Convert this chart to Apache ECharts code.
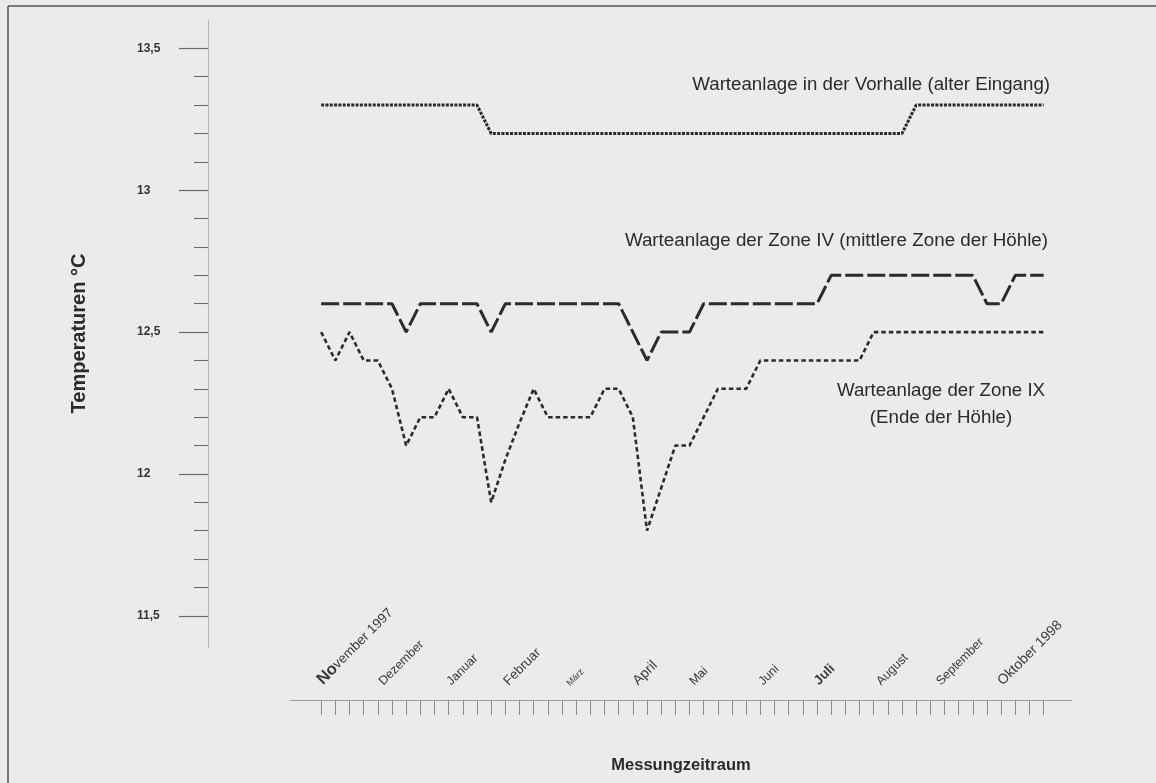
<!DOCTYPE html>
<html>
<head>
<meta charset="utf-8">
<script src="https://cdn.jsdelivr.net/npm/echarts@6/dist/echarts.min.js"></script>
<style>
  html, body { margin: 0; padding: 0; background: #ebebeb; }
  #chart { width: 1156px; height: 783px; }
</style>
</head>
<body>
<div id="chart"></div>
<script>
// ---- Data (weekly measurements, Nov 1997 – Oct 1998) ----
const weeks = [0,1,2,3,4,5,6,7,8,9,10,11,12,13,14,15,16,17,18,19,20,21,22,23,24,25,
               26,27,28,29,30,31,32,33,34,35,36,37,38,39,40,41,42,43,44,45,46,47,48,49,50,51];

const vorhalle = [13.3,13.3,13.3,13.3,13.3,13.3,13.3,13.3,13.3,13.3,13.3,13.3,
                  13.2,13.2,13.2,13.2,13.2,13.2,13.2,13.2,13.2,13.2,13.2,13.2,13.2,13.2,13.2,13.2,13.2,13.2,
                  13.2,13.2,13.2,13.2,13.2,13.2,13.2,13.2,13.2,13.2,13.2,13.2,
                  13.3,13.3,13.3,13.3,13.3,13.3,13.3,13.3,13.3,13.3];

const zoneIV = [12.6,12.6,12.6,12.6,12.6,12.6,12.5,12.6,12.6,12.6,12.6,12.6,12.5,
                12.6,12.6,12.6,12.6,12.6,12.6,12.6,12.6,12.6,12.5,12.4,12.5,12.5,12.5,
                12.6,12.6,12.6,12.6,12.6,12.6,12.6,12.6,12.6,
                12.7,12.7,12.7,12.7,12.7,12.7,12.7,12.7,12.7,12.7,12.7,
                12.6,12.6,12.7,12.7,12.7];

const zoneIX = [12.5,12.4,12.5,12.4,12.4,12.3,12.1,12.2,12.2,12.3,12.2,12.2,11.9,
                12.05,12.18,12.3,12.2,12.2,12.2,12.2,12.3,12.3,12.2,11.8,11.95,12.1,12.1,
                12.2,12.3,12.3,12.3,12.4,12.4,12.4,12.4,12.4,12.4,12.4,12.4,
                12.5,12.5,12.5,12.5,12.5,12.5,12.5,12.5,12.5,12.5,12.5,12.5,12.5];

// Month labels and their position on the week axis
const months = ['November 1997','Dezember','Januar','Februar','März','April','Mai',
                'Juni','Juli','August','September','Oktober 1998'];
const monthPos = [0.32, 4.55, 9.34, 13.36, 17.67, 22.53, 26.48, 31.35, 35.30, 39.67, 43.90, 48.27];

// Y-axis ticks
const yMajor = [11.5, 12, 12.5, 13, 13.5];
const yMinor = [11.6,11.7,11.8,11.9,12.1,12.2,12.3,12.4,12.6,12.7,12.8,12.9,13.1,13.2,13.3,13.4];

const seriesNames = ['Warteanlage in der Vorhalle (alter Eingang)',
                     'Warteanlage der Zone IV (mittlere Zone der Höhle)',
                     'Warteanlage der Zone IX\n(Ende der Höhle)'];

const pairs = arr => weeks.map((w, i) => [w, arr[i]]);

const chart = echarts.init(document.getElementById('chart'), null, { renderer: 'canvas' });

const FONT = 'Liberation Sans, Arial, Helvetica, sans-serif';
const LBL = '#3a3a3a';

const option = {
  backgroundColor: '#ebebeb',
  animation: false,
  textStyle: { fontFamily: FONT },
  grid: { left: 290, right: 84, top: 20, bottom: 136, outerBoundsMode: 'none' },
  xAxis: {
    type: 'value',
    min: -2.2, max: 53,
    offset: 53,
    splitLine: { show: false },
    axisLine: { show: true, onZero: false, lineStyle: { color: '#9a9a9a', width: 1.2 } },
    axisTick: { show: true, customValues: weeks, length: 15, inside: false,
                lineStyle: { color: '#8a8a8a', width: 1 } },
    axisLabel: {
      show: true,
      customValues: monthPos,
      inside: true,
      rotate: 45,
      align: 'left',
      verticalAlign: 'bottom',
      margin: 12,
      color: LBL,
      fontFamily: FONT,
      fontSize: 12.5,
      formatter: function (v) {
        const i = monthPos.indexOf(v);
        const t = i >= 0 ? months[i] : '';
        if (t === 'November 1997') return '{bigN|No}{n|vember 1997}';
        if (t === 'April') return '{big|April}';
        if (t === 'Juli') return '{bold|Juli}';
        if (t === 'März') return '{small|März}';
        if (t === 'Oktober 1998') return '{mid|Oktober 1998}';
        if (t === 'Februar') return '{feb|Februar}';
        return t;
      },
      rich: {
        bigN: { fontSize: 16.5, fontWeight: 'bold', color: LBL, fontFamily: FONT },
        n: { fontSize: 13.5, color: LBL, fontFamily: FONT },
        big: { fontSize: 14, color: LBL, fontFamily: FONT },
        bold: { fontSize: 13.5, fontWeight: 'bold', color: LBL, fontFamily: FONT },
        small: { fontSize: 9, color: LBL, fontFamily: FONT },
        mid: { fontSize: 14, color: LBL, fontFamily: FONT },
        feb: { fontSize: 13.3, color: LBL, fontFamily: FONT }
      }
    },
    name: 'Messungzeitraum',
    nameLocation: 'middle',
    nameGap: 57,
    nameTextStyle: { fontSize: 16.5, fontWeight: 'bold', color: '#2a2a2a', fontFamily: FONT }
  },
  yAxis: [
    {
      type: 'value',
      position: 'left',
      min: 11.39, max: 13.6,
      offset: 82,
      splitLine: { show: false },
      axisLine: { show: true, onZero: false, lineStyle: { color: '#b5b5b5', width: 1.2 } },
      axisTick: { show: true, customValues: yMajor, length: 29,
                  lineStyle: { color: '#6a6a6a', width: 1.2 } },
      axisLabel: {
        show: true, customValues: yMajor, align: 'left', margin: 71,
        color: '#333', fontSize: 12, fontWeight: 'bold', fontFamily: FONT,
        formatter: v => String(v).replace('.', ',')
      },
      name: 'Temperaturen °C',
      nameLocation: 'middle',
      nameGap: 119,
      nameRotate: 90,
      nameTextStyle: { fontSize: 20, fontWeight: 'bold', color: '#2a2a2a', fontFamily: FONT }
    },
    {
      type: 'value',
      position: 'left',
      min: 11.39, max: 13.6,
      offset: 82,
      splitLine: { show: false },
      axisLine: { show: false, onZero: false },
      axisTick: { show: true, customValues: yMinor, length: 14,
                  lineStyle: { color: '#6a6a6a', width: 1.1 } },
      axisLabel: { show: false }
    }
  ],
  series: [
    {
      name: seriesNames[0], type: 'line', data: pairs(vorhalle),
      symbol: 'none', yAxisIndex: 0,
      lineStyle: { color: '#2b2b2b', width: 3, type: [3, 1.3] }
    },
    {
      name: seriesNames[1], type: 'line', data: pairs(zoneIV),
      symbol: 'none', yAxisIndex: 0,
      lineStyle: { color: '#2b2b2b', width: 3, type: [18, 4] }
    },
    {
      name: seriesNames[2], type: 'line', data: pairs(zoneIX),
      symbol: 'none', yAxisIndex: 0,
      lineStyle: { color: '#2b2b2b', width: 2.6, type: [4.5, 3] }
    }
  ],
  graphic: [
    { type: 'line', shape: { x1: 8, y1: 6, x2: 1156, y2: 6 }, style: { stroke: '#555', lineWidth: 1.5 } },
    { type: 'line', shape: { x1: 8, y1: 6, x2: 8, y2: 783 }, style: { stroke: '#555', lineWidth: 1.5 } },
    { type: 'text', x: 1050, y: 85,
      style: { text: seriesNames[0], fontSize: 18.7, fontFamily: FONT, fill: '#2a2a2a',
               align: 'right', verticalAlign: 'middle' } },
    { type: 'text', x: 1048, y: 241,
      style: { text: seriesNames[1], fontSize: 18.8, fontFamily: FONT, fill: '#2a2a2a',
               align: 'right', verticalAlign: 'middle' } },
    { type: 'text', x: 941, y: 404,
      style: { text: seriesNames[2], fontSize: 18.7, fontFamily: FONT, fill: '#2a2a2a',
               align: 'center', verticalAlign: 'middle', lineHeight: 27 } }
  ]
};

chart.setOption(option);
</script>
</body>
</html>
